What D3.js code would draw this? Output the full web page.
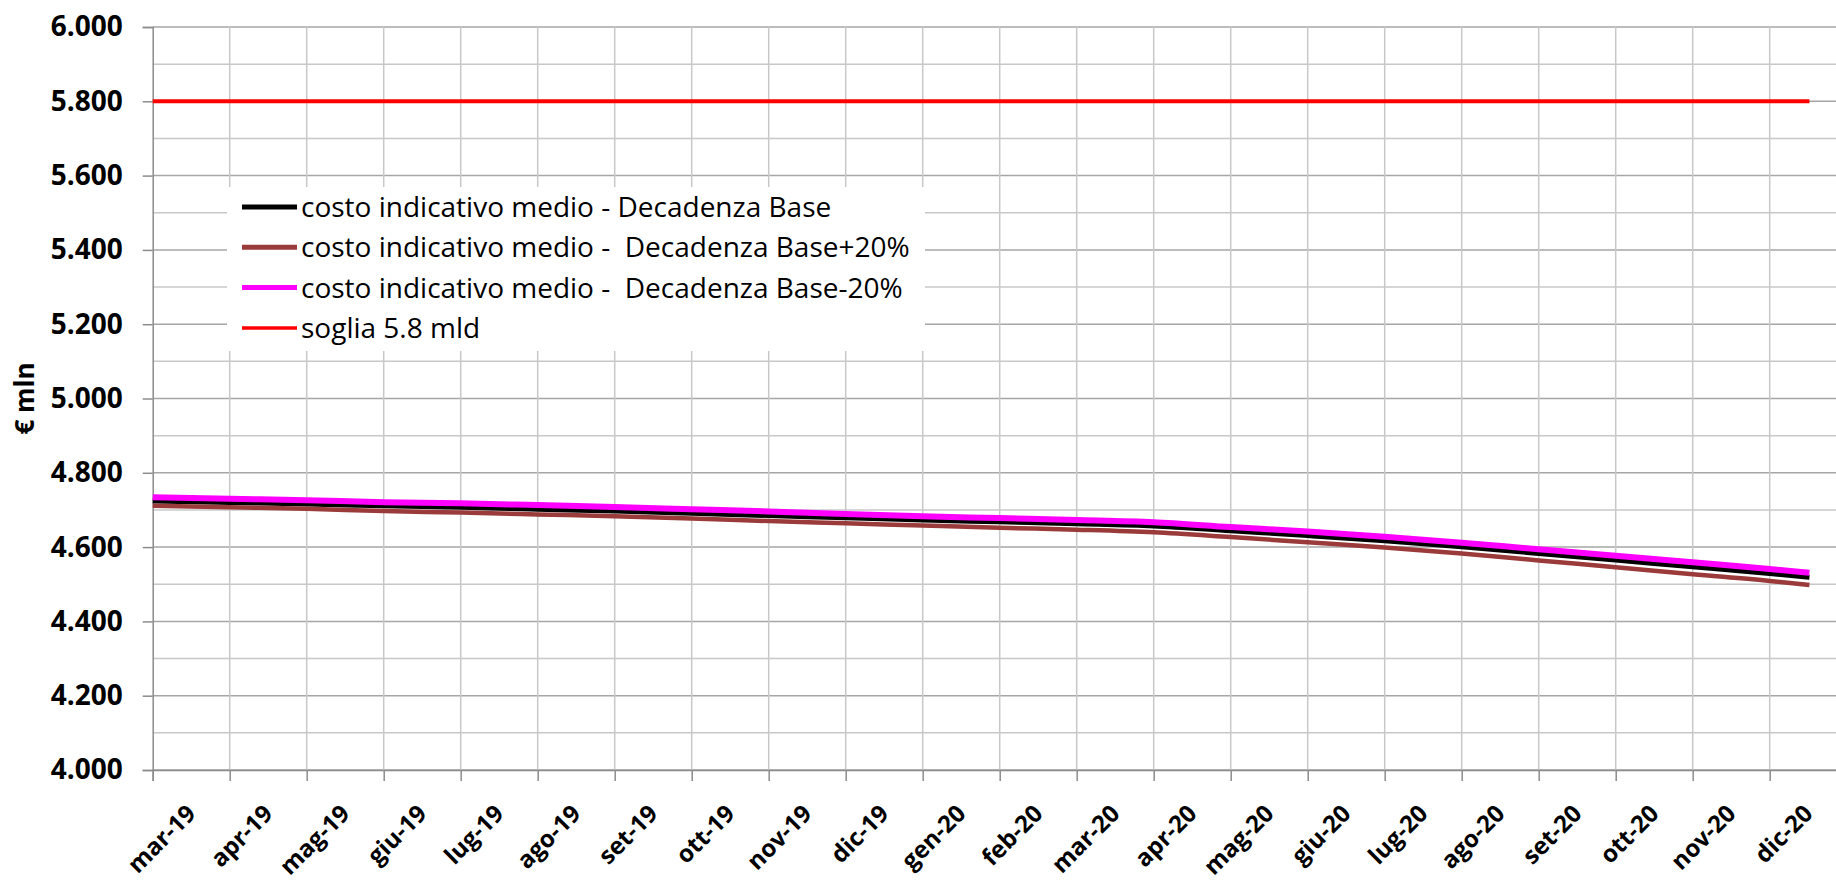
<!DOCTYPE html>
<html>
<head>
<meta charset="utf-8">
<script src="https://cdn.jsdelivr.net/npm/d3@7"></script>
<style>
  body { margin: 0; background: #fff; }
  svg { display: block; }
</style>
</head>
<body>
<svg id="chart"></svg>
<script>
// monthly categories on the x axis
const months = ["mar-19", "apr-19", "mag-19", "giu-19", "lug-19", "ago-19", "set-19", "ott-19",
  "nov-19", "dic-19", "gen-20", "feb-20", "mar-20", "apr-20", "mag-20", "giu-20", "lug-20",
  "ago-20", "set-20", "ott-20", "nov-20", "dic-20"];

// dates of the data points (last one is mid december)
const dates = ["2019-03-01", "2019-04-01", "2019-05-01", "2019-06-01", "2019-07-01", "2019-08-01",
  "2019-09-01", "2019-10-01", "2019-11-01", "2019-12-01", "2020-01-01", "2020-02-01", "2020-03-01",
  "2020-04-01", "2020-05-01", "2020-06-01", "2020-07-01", "2020-08-01", "2020-09-01", "2020-10-01",
  "2020-11-01", "2020-12-01", "2020-12-17"];

const base = [4724, 4720, 4716, 4711, 4707, 4702, 4697, 4691, 4685, 4679, 4673, 4668, 4663, 4657,
  4644, 4631, 4617, 4601, 4583, 4565, 4547, 4529, 4519];
const basePlus20 = [4711, 4707, 4703, 4697, 4693, 4688, 4683, 4677, 4670, 4664, 4658, 4652, 4647,
  4640, 4627, 4613, 4599, 4583, 4564, 4546, 4527, 4509, 4498];
const baseMinus20 = [4734, 4730, 4726, 4721, 4718, 4713, 4708, 4702, 4696, 4689, 4683, 4678, 4673,
  4667, 4654, 4642, 4628, 4612, 4594, 4577, 4559, 4541, 4531];
const soglia = 5800;

const yTicks = [4000, 4200, 4400, 4600, 4800, 5000, 5200, 5400, 5600, 5800, 6000];
const yGrid = d3.range(4000, 6001, 100);

const legendLabels = [
  "costo indicativo medio - Decadenza Base",
  "costo indicativo medio -  Decadenza Base+20%",
  "costo indicativo medio -  Decadenza Base-20%",
  "soglia 5.8 mld"
];
const colors = ["#000000", "#9b3a3a", "#ff00ff", "#ff0000"];

const width = 1836, height = 882;
const svg = d3.select("#chart").attr("width", width).attr("height", height);

const plotLeft = 152.7, plotTop = 27, plotBottom = 770, step = 77;

// category position of a date, in months from mar-19
const monthPos = s => {
  const d = new Date(s + "T00:00:00");
  const dim = new Date(d.getFullYear(), d.getMonth() + 1, 0).getDate();
  return (d.getFullYear() - 2019) * 12 + d.getMonth() - 2 + (d.getDate() - 1) / dim;
};

const x = d3.scaleLinear().domain([0, months.length]).range([plotLeft, plotLeft + step * months.length]);
const y = d3.scaleLinear().domain([4000, 6000]).range([plotBottom, plotTop]);

const fmt = d3.formatLocale({ decimal: ",", thousands: ".", grouping: [3], currency: ["", ""] }).format(",.0f");

// grid
const grid = svg.append("g");
grid.selectAll(".hg").data(yGrid).join("line")
  .attr("x1", plotLeft).attr("x2", width)
  .attr("y1", d => y(d)).attr("y2", d => y(d))
  .attr("stroke", d => d % 200 === 0 ? "#a6a6a6" : "#c8c8c8")
  .attr("stroke-width", 1.5);
grid.selectAll(".vg").data(d3.range(1, months.length + 1)).join("line")
  .attr("x1", d => x(d)).attr("x2", d => x(d))
  .attr("y1", plotTop).attr("y2", plotBottom)
  .attr("stroke", "#c8c8c8")
  .attr("stroke-width", 1.5);

// axes
const yAxis = svg.append("g").attr("transform", `translate(${plotLeft},0)`)
  .call(d3.axisLeft(y).tickValues(yTicks).tickSize(10).tickPadding(20).tickFormat(fmt));
yAxis.select(".domain").attr("stroke", "#8c8c8c").attr("stroke-width", 1.5);
yAxis.selectAll(".tick line").attr("stroke", "#8c8c8c").attr("stroke-width", 1.5);
yAxis.selectAll("text")
  .attr("font-family", "Open Sans").attr("font-weight", "bold").attr("font-size", "28px").attr("fill", "#000");

const xAxis = svg.append("g").attr("transform", `translate(0,${plotBottom})`)
  .call(d3.axisBottom(x).tickValues(d3.range(0, months.length + 1)).tickSize(11).tickFormat(""));
xAxis.select(".domain").attr("stroke", "#8c8c8c").attr("stroke-width", 1.5);
xAxis.selectAll(".tick line").attr("stroke", "#8c8c8c").attr("stroke-width", 1.5);

svg.append("g").selectAll("text").data(months).join("text")
  .attr("transform", (d, i) => `translate(${x(i + 0.5) + 6},${plotBottom + 45}) rotate(-45)`)
  .attr("text-anchor", "end")
  .attr("font-family", "Open Sans").attr("font-weight", "bold").attr("font-size", "24px")
  .text(d => d);

svg.append("text")
  .attr("transform", `translate(34,${y(5000)}) rotate(-90)`)
  .attr("text-anchor", "middle")
  .attr("font-family", "Open Sans").attr("font-weight", "bold").attr("font-size", "26px")
  .text("€ mln");

// series
const line = d3.line()
  .x(d => x(monthPos(d[0])))
  .y(d => y(d[1]))
  .curve(d3.curveMonotoneX);

const series = [base, basePlus20, baseMinus20, dates.map(() => soglia)];
const widths = [5, 4.5, 6, 4];
[3, 0, 1, 2].forEach(k => {
  svg.append("path")
    .datum(dates.map((d, i) => [d, series[k][i]]))
    .attr("fill", "none")
    .attr("stroke", colors[k])
    .attr("stroke-width", widths[k])
    .attr("d", line);
});

// legend
const lg = svg.append("g");
lg.append("rect").attr("x", 227).attr("y", 187).attr("width", 698).attr("height", 164).attr("fill", "#fff");
legendLabels.forEach((t, i) => {
  const cy = 207 + i * 40.3;
  lg.append("line").attr("x1", 242).attr("x2", 297).attr("y1", cy).attr("y2", cy)
    .attr("stroke", colors[i]).attr("stroke-width", i === 3 ? 3.5 : 5);
  lg.append("text").attr("x", 301).attr("y", cy).attr("dy", "0.36em")
    .attr("font-family", "Open Sans").attr("font-size", "28px")
    .style("white-space", "pre")
    .text(t);
});
</script>
</body>
</html>
